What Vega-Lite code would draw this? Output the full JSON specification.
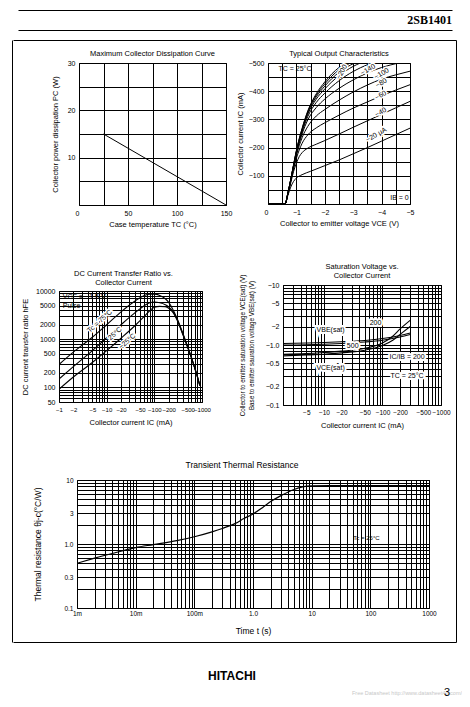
{
"$schema":"https://vega.github.io/schema/vega-lite/v6.json",
"padding":{"left":12,"top":10,"right":0,"bottom":0},
"spacing":0,
"config":{"font":"Liberation Sans","view":{"stroke":"#000","strokeWidth":1},
"point":{"opacity":0,"size":0,"strokeWidth":0},
"axis":{"domain":false,"ticks":false,"grid":true,"gridColor":"#000","gridOpacity":1,"gridWidth":1,"labelFont":"Liberation Sans","labelFontSize":7,"labelColor":"#000","labelPadding":4,"labelOverlap":false,"labelFlush":false,"titleFont":"Liberation Sans","titleFontSize":7.5,"titleFontWeight":"normal","titleColor":"#000","titlePadding":6},
"title":{"font":"Liberation Sans","fontSize":7.5,"fontWeight":"normal","color":"#000","anchor":"middle","offset":2,"lineHeight":9}},
"vconcat":[
{"hconcat":[
 {"width":6,"height":20,"data":{"values":[{}]},"mark":"point","view":{"stroke":null}},
 {"width":434,"height":20,"data":{"values":[{"t":"2SB1401"}]},"view":{"stroke":null},
  "mark":{"type":"text","font":"Liberation Serif","fontWeight":"bold","fontSize":12,"align":"right","baseline":"middle","color":"#000"},
  "encoding":{"x":{"datum":1,"type":"quantitative","scale":{"domain":[0,1]},"axis":null},
   "y":{"datum":0.5,"type":"quantitative","scale":{"domain":[0,1]},"axis":{"values":[0,1],"grid":true,"labels":false,"ticks":false,"domain":false,"title":null,"gridColor":"#000","gridWidth":1}},
   "text":{"field":"t"}}}
],"spacing":0,"bounds":"flush"},
{"width":440,"height":10,"data":{"values":[{}]},"mark":"point","view":{"stroke":null}},
{"hconcat":[
 {"width":1,"height":602,"data":{"values":[{}]},"mark":"point","view":{"stroke":null},
  "encoding":{"y":{"datum":0,"type":"quantitative","scale":{"domain":[0,1]},"axis":{"domain":true,"domainColor":"#000","domainWidth":1,"grid":false,"labels":false,"ticks":false,"title":null}}}},
 {"vconcat":[
  {"width":443,"height":9,"data":{"values":[{}]},"mark":"point","view":{"stroke":null},
   "encoding":{"x":{"datum":0,"type":"quantitative","scale":{"domain":[0,1]},"axis":{"orient":"top","domain":true,"domainColor":"#000","domainWidth":1,"grid":false,"labels":false,"ticks":false,"title":null}}}},
  {"hconcat":[
   {"width":66,"height":198,"data":{"values":[{}]},"mark":"point","view":{"stroke":null}},
   {"width":147,"height":142,"title":{"text":"Maximum Collector Dissipation Curve"},
    "data":{"values":[{"tc":25,"pc":15},{"tc":150,"pc":0}]},
    "mark":{"type":"line","color":"#000","strokeWidth":1},
    "encoding":{
     "x":{"field":"tc","type":"quantitative","scale":{"domain":[0,150],"nice":false},"axis":{"values":[0,25,50,75,100,125,150],"labelExpr":"datum.value % 50 == 0 ? '' + datum.value : ''","labelAlign":{"condition":{"test":"datum.value == 0","value":"right"},"value":"center"},"title":"Case temperature  TC  (°C)","titlePadding":4}},
     "y":{"field":"pc","type":"quantitative","scale":{"domain":[0,30],"nice":false},"axis":{"values":[0,5,10,15,20,25,30],"labelExpr":"datum.value > 0 && datum.value % 10 == 0 ? '' + datum.value : ''","title":"Collector power dissipation  PC  (W)","titlePadding":8}}}},
   {"width":42,"height":10,"data":{"values":[{}]},"mark":"point","view":{"stroke":null}},
   {"width":142,"height":141,"title":{"text":"Typical Output Characteristics"},
     "encoding":{
      "x":{"field":"v","type":"quantitative","scale":{"domain":[0,-5],"nice":false},"axis":{"values":[0,-0.5,-1,-1.5,-2,-2.5,-3,-3.5,-4,-4.5,-5],"labelExpr":"datum.value == 0 ? '0' : (datum.value % 1 == 0 ? '−' + abs(datum.value) : '')","labelAlign":{"condition":{"test":"datum.value == 0","value":"right"},"value":"center"},"title":"Collector to emitter voltage  VCE  (V)","titlePadding":4}},
      "y":{"field":"i","type":"quantitative","scale":{"domain":[0,-500],"nice":false},"axis":{"values":[0,-50,-100,-150,-200,-250,-300,-350,-400,-450,-500],"labelExpr":"datum.value != 0 && datum.value % 100 == 0 ? '−' + abs(datum.value) : ''","title":"Collector current  IC  (mA)","titlePadding":4}}},
     "layer":[
      {"data":{"values":[
{"b":"-20","v":0,"i":0},{"b":"-20","v":-0.6,"i":0},{"b":"-20","v":-0.7,"i":-30},{"b":"-20","v":-0.8,"i":-60},{"b":"-20","v":-0.9,"i":-80},{"b":"-20","v":-1,"i":-92},{"b":"-20","v":-1.2,"i":-104},{"b":"-20","v":-1.5,"i":-116},{"b":"-20","v":-2,"i":-136},{"b":"-20","v":-2.5,"i":-156},{"b":"-20","v":-3,"i":-178},{"b":"-20","v":-3.5,"i":-200},{"b":"-20","v":-4,"i":-223},{"b":"-20","v":-4.5,"i":-246},{"b":"-20","v":-5,"i":-269},
{"b":"-40","v":0,"i":0},{"b":"-40","v":-0.6,"i":0},{"b":"-40","v":-0.7,"i":-35},{"b":"-40","v":-0.8,"i":-75},{"b":"-40","v":-0.9,"i":-115},{"b":"-40","v":-1,"i":-145},{"b":"-40","v":-1.1,"i":-168},{"b":"-40","v":-1.2,"i":-182},{"b":"-40","v":-1.4,"i":-198},{"b":"-40","v":-1.7,"i":-212},{"b":"-40","v":-2,"i":-225},{"b":"-40","v":-2.5,"i":-248},{"b":"-40","v":-3,"i":-272},{"b":"-40","v":-3.5,"i":-295},{"b":"-40","v":-4,"i":-318},{"b":"-40","v":-4.5,"i":-341},{"b":"-40","v":-5,"i":-364},
{"b":"-60","v":0,"i":0},{"b":"-60","v":-0.6,"i":0},{"b":"-60","v":-0.7,"i":-36},{"b":"-60","v":-0.8,"i":-80},{"b":"-60","v":-0.9,"i":-125},{"b":"-60","v":-1,"i":-162},{"b":"-60","v":-1.2,"i":-215},{"b":"-60","v":-1.4,"i":-245},{"b":"-60","v":-1.7,"i":-270},{"b":"-60","v":-2,"i":-288},{"b":"-60","v":-2.5,"i":-315},{"b":"-60","v":-3,"i":-340},{"b":"-60","v":-3.5,"i":-362},{"b":"-60","v":-4,"i":-384},{"b":"-60","v":-4.5,"i":-404},{"b":"-60","v":-5,"i":-423},
{"b":"-80","v":0,"i":0},{"b":"-80","v":-0.6,"i":0},{"b":"-80","v":-0.7,"i":-37},{"b":"-80","v":-0.8,"i":-82},{"b":"-80","v":-0.9,"i":-130},{"b":"-80","v":-1,"i":-172},{"b":"-80","v":-1.2,"i":-235},{"b":"-80","v":-1.4,"i":-275},{"b":"-80","v":-1.7,"i":-312},{"b":"-80","v":-2,"i":-335},{"b":"-80","v":-2.5,"i":-368},{"b":"-80","v":-3,"i":-397},{"b":"-80","v":-3.5,"i":-422},{"b":"-80","v":-4,"i":-443},{"b":"-80","v":-4.5,"i":-458},{"b":"-80","v":-5,"i":-471},
{"b":"-100","v":0,"i":0},{"b":"-100","v":-0.6,"i":0},{"b":"-100","v":-0.7,"i":-38},{"b":"-100","v":-0.8,"i":-84},{"b":"-100","v":-0.9,"i":-133},{"b":"-100","v":-1,"i":-178},{"b":"-100","v":-1.2,"i":-248},{"b":"-100","v":-1.4,"i":-298},{"b":"-100","v":-1.7,"i":-342},{"b":"-100","v":-2,"i":-372},{"b":"-100","v":-2.5,"i":-410},{"b":"-100","v":-3,"i":-440},{"b":"-100","v":-3.5,"i":-465},{"b":"-100","v":-4,"i":-484},{"b":"-100","v":-4.6,"i":-500},
{"b":"-120","v":0,"i":0},{"b":"-120","v":-0.6,"i":0},{"b":"-120","v":-0.7,"i":-38},{"b":"-120","v":-0.8,"i":-85},{"b":"-120","v":-0.9,"i":-135},{"b":"-120","v":-1,"i":-182},{"b":"-120","v":-1.2,"i":-255},{"b":"-120","v":-1.4,"i":-310},{"b":"-120","v":-1.7,"i":-360},{"b":"-120","v":-2,"i":-393},{"b":"-120","v":-2.5,"i":-437},{"b":"-120","v":-3,"i":-470},{"b":"-120","v":-3.5,"i":-494},{"b":"-120","v":-3.65,"i":-500},
{"b":"-140","v":0,"i":0},{"b":"-140","v":-0.6,"i":0},{"b":"-140","v":-0.7,"i":-38},{"b":"-140","v":-0.8,"i":-85},{"b":"-140","v":-0.9,"i":-136},{"b":"-140","v":-1,"i":-184},{"b":"-140","v":-1.2,"i":-260},{"b":"-140","v":-1.4,"i":-318},{"b":"-140","v":-1.7,"i":-372},{"b":"-140","v":-2,"i":-408},{"b":"-140","v":-2.5,"i":-455},{"b":"-140","v":-3,"i":-488},{"b":"-140","v":-3.25,"i":-500},
{"b":"-160","v":0,"i":0},{"b":"-160","v":-0.6,"i":0},{"b":"-160","v":-0.7,"i":-38},{"b":"-160","v":-0.8,"i":-86},{"b":"-160","v":-0.9,"i":-137},{"b":"-160","v":-1,"i":-186},{"b":"-160","v":-1.2,"i":-263},{"b":"-160","v":-1.4,"i":-323},{"b":"-160","v":-1.7,"i":-380},{"b":"-160","v":-2,"i":-418},{"b":"-160","v":-2.5,"i":-467},{"b":"-160","v":-3.05,"i":-500},
{"b":"-180","v":0,"i":0},{"b":"-180","v":-0.6,"i":0},{"b":"-180","v":-0.7,"i":-38},{"b":"-180","v":-0.8,"i":-86},{"b":"-180","v":-0.9,"i":-138},{"b":"-180","v":-1,"i":-188},{"b":"-180","v":-1.2,"i":-266},{"b":"-180","v":-1.4,"i":-327},{"b":"-180","v":-1.7,"i":-386},{"b":"-180","v":-2,"i":-426},{"b":"-180","v":-2.5,"i":-476},{"b":"-180","v":-2.9,"i":-500},
{"b":"-200","v":0,"i":0},{"b":"-200","v":-0.6,"i":0},{"b":"-200","v":-0.7,"i":-38},{"b":"-200","v":-0.8,"i":-87},{"b":"-200","v":-0.9,"i":-139},{"b":"-200","v":-1,"i":-190},{"b":"-200","v":-1.2,"i":-268},{"b":"-200","v":-1.4,"i":-330},{"b":"-200","v":-1.7,"i":-391},{"b":"-200","v":-2,"i":-433},{"b":"-200","v":-2.5,"i":-484},{"b":"-200","v":-2.75,"i":-500}
      ]},"mark":{"type":"line","color":"#000","strokeWidth":1,"interpolate":"monotone","clip":true},"encoding":{"detail":{"field":"b"}}},
      {"data":{"values":[{}]},"mark":{"type":"rect","fill":"#fff"},"encoding":{"x":{"datum":-0.1},"x2":{"datum":-1.85},"y":{"datum":-456},"y2":{"datum":-497}}},
      {"data":{"values":[{}]},"mark":{"type":"rect","fill":"#fff"},"encoding":{"x":{"datum":-4.3},"x2":{"datum":-4.96},"y":{"datum":-4},"y2":{"datum":-43}}},
      {"data":{"values":[{"v":-0.95,"i":-477,"lab":"TC = 25°C"},{"v":-4.63,"i":-23,"lab":"IB = 0"}]},"mark":{"type":"text","fontSize":7,"color":"#000"},"encoding":{"text":{"field":"lab"}}},
      {"data":{"values":[{"v":-3.52,"i":-476,"lab":"−140"},{"v":-4.0,"i":-462,"lab":"−100"},{"v":-3.99,"i":-429,"lab":"−80"},{"v":-3.97,"i":-385,"lab":"−60"},{"v":-3.97,"i":-325,"lab":"−40"},{"v":-3.81,"i":-245,"lab":"−20 μA"}]},"mark":{"type":"text","fontSize":7,"angle":330,"fill":"#fff","stroke":"#fff","strokeWidth":3},"encoding":{"text":{"field":"lab"}}},
      {"data":{"values":[{"v":-3.52,"i":-476,"lab":"−140"},{"v":-4.0,"i":-462,"lab":"−100"},{"v":-3.99,"i":-429,"lab":"−80"},{"v":-3.97,"i":-385,"lab":"−60"},{"v":-3.97,"i":-325,"lab":"−40"},{"v":-3.81,"i":-245,"lab":"−20 μA"}]},"mark":{"type":"text","fontSize":7,"angle":330,"color":"#000"},"encoding":{"text":{"field":"lab"}}},
      {"data":{"values":[{"v":-2.6,"i":-468,"lab":"−200"}]},"mark":{"type":"text","fontSize":7,"angle":300,"fill":"#fff","stroke":"#fff","strokeWidth":3},"encoding":{"text":{"field":"lab"}}},
      {"data":{"values":[{"v":-2.6,"i":-468,"lab":"−200"}]},"mark":{"type":"text","fontSize":7,"angle":300,"color":"#000"},"encoding":{"text":{"field":"lab"}}}
     ]}
  ],"spacing":0,"bounds":"flush"},
  {"hconcat":[
   {"vconcat":[
    {"width":200,"height":8,"data":{"values":[{}]},"mark":"point","view":{"stroke":null}},
    {"hconcat":[
     {"width":46,"height":10,"data":{"values":[{}]},"mark":"point","view":{"stroke":null}},
     {"width":143,"height":111,"title":{"text":["DC Current Transfer Ratio vs.","Collector Current"],"dx":-7,"offset":1},
      "encoding":{
       "x":{"field":"ic","type":"quantitative","scale":{"type":"log","domain":[1,1000],"nice":false},"axis":{"values":[1,2,3,4,5,6,7,8,9,10,20,30,40,50,60,70,80,90,100,200,300,400,500,600,700,800,900,1000],"labelExpr":"indexof([1,2,5,10,20,50,100,200,500,1000], datum.value) >= 0 ? '−' + datum.value : ''","labelFontSize":6,"title":"Collector current  IC  (mA)"}},
       "y":{"field":"h","type":"quantitative","scale":{"type":"log","domain":[50,10000],"nice":false},"axis":{"values":[50,60,70,80,90,100,200,300,400,500,600,700,800,900,1000,2000,3000,4000,5000,6000,7000,8000,9000,10000],"labelExpr":"indexof([50,100,200,500,1000,2000,5000,10000], datum.value) >= 0 ? '' + datum.value : ''","title":"DC current transfer ratio  hFE"}}},
      "layer":[
       {"data":{"values":[
{"t":"75","ic":1,"h":300},{"t":"75","ic":2,"h":540},{"t":"75","ic":5,"h":1100},{"t":"75","ic":10,"h":2000},{"t":"75","ic":20,"h":3700},{"t":"75","ic":40,"h":6300},{"t":"75","ic":60,"h":8000},{"t":"75","ic":80,"h":8600},{"t":"75","ic":100,"h":8600},{"t":"75","ic":130,"h":8100},{"t":"75","ic":170,"h":6900},{"t":"75","ic":200,"h":5800},{"t":"75","ic":250,"h":4000},{"t":"75","ic":300,"h":2700},{"t":"75","ic":400,"h":1300},{"t":"75","ic":500,"h":700},{"t":"75","ic":600,"h":420},{"t":"75","ic":700,"h":260},{"t":"75","ic":800,"h":170},{"t":"75","ic":900,"h":112},
{"t":"25","ic":1,"h":150},{"t":"25","ic":2,"h":270},{"t":"25","ic":5,"h":580},{"t":"25","ic":10,"h":1080},{"t":"25","ic":20,"h":2000},{"t":"25","ic":40,"h":3600},{"t":"25","ic":60,"h":4900},{"t":"25","ic":80,"h":5700},{"t":"25","ic":100,"h":5900},{"t":"25","ic":130,"h":5700},{"t":"25","ic":170,"h":5200},{"t":"25","ic":200,"h":4700},{"t":"25","ic":250,"h":3700},{"t":"25","ic":300,"h":2600},{"t":"25","ic":400,"h":1250},{"t":"25","ic":500,"h":690},{"t":"25","ic":600,"h":415},{"t":"25","ic":700,"h":258},{"t":"25","ic":800,"h":168},{"t":"25","ic":900,"h":110},
{"t":"-25","ic":1,"h":92},{"t":"-25","ic":2,"h":165},{"t":"-25","ic":5,"h":330},{"t":"-25","ic":10,"h":580},{"t":"-25","ic":20,"h":1050},{"t":"-25","ic":40,"h":1950},{"t":"-25","ic":60,"h":2900},{"t":"-25","ic":80,"h":3900},{"t":"-25","ic":100,"h":4600},{"t":"-25","ic":130,"h":4800},{"t":"-25","ic":170,"h":4700},{"t":"-25","ic":200,"h":4400},{"t":"-25","ic":250,"h":3500},{"t":"-25","ic":300,"h":2500},{"t":"-25","ic":400,"h":1220},{"t":"-25","ic":500,"h":680},{"t":"-25","ic":600,"h":410},{"t":"-25","ic":700,"h":255},{"t":"-25","ic":800,"h":166},{"t":"-25","ic":900,"h":108}
       ]},"mark":{"type":"line","color":"#000","strokeWidth":1.1,"interpolate":"monotone","clip":true},"encoding":{"detail":{"field":"t"}}},
       {"data":{"values":[{}]},"mark":{"type":"rect","fill":"#fff"},"encoding":{"x":{"datum":1.05},"x2":{"datum":12.5},"y":{"datum":3900},"y2":{"datum":9700}}},
       {"data":{"values":[{"ic":1.2,"h":7600,"lab":"VCE = −1.5 V"},{"ic":1.2,"h":5000,"lab":"Pulse"}]},"mark":{"type":"text","fontSize":7,"align":"left","color":"#000"},"encoding":{"text":{"field":"lab"}}},
       {"data":{"values":[{"ic":7.2,"h":2350,"lab":"Tc = 75°C"},{"ic":15,"h":1300,"lab":"25°C"},{"ic":27,"h":900,"lab":"−25°C"}]},"mark":{"type":"text","fontSize":7,"angle":318,"fill":"#fff","stroke":"#fff","strokeWidth":3},"encoding":{"text":{"field":"lab"}}},
       {"data":{"values":[{"ic":7.2,"h":2350,"lab":"Tc = 75°C"},{"ic":15,"h":1300,"lab":"25°C"},{"ic":27,"h":900,"lab":"−25°C"}]},"mark":{"type":"text","fontSize":7,"angle":318,"color":"#000"},"encoding":{"text":{"field":"lab"}}}
      ]}
    ],"spacing":0,"bounds":"flush"}
   ],"spacing":0},
   {"vconcat":[
    {"width":228,"height":1,"data":{"values":[{}]},"mark":"point","view":{"stroke":null}},
    {"hconcat":[
     {"width":70,"height":10,"data":{"values":[{}]},"mark":"point","view":{"stroke":null}},
     {"width":158,"height":120,"title":{"text":["Saturation Voltage vs.","Collector Current"],"offset":-7},
      "encoding":{
       "x":{"field":"ic","type":"quantitative","scale":{"type":"log","domain":[2,1000],"nice":false},"axis":{"values":[2,3,4,5,6,7,8,9,10,20,30,40,50,60,70,80,90,100,200,300,400,500,600,700,800,900,1000],"labelExpr":"indexof([5,10,20,50,100,200,500,1000], datum.value) >= 0 ? '−' + datum.value : ''","labelFontSize":6.5,"title":"Collector current  IC  (mA)"}},
       "y":{"field":"vs","type":"quantitative","scale":{"type":"log","domain":[0.1,10],"nice":false},"axis":{"values":[0.1,0.2,0.3,0.4,0.5,0.6,0.7,0.8,0.9,1,2,3,4,5,6,7,8,9,10],"labelExpr":"datum.value == 1 ? '−1.0' : (indexof([0.1,0.2,0.5,2,5,10], datum.value) >= 0 ? '−' + datum.value : '')","title":["Collector to emitter saturation voltage  VCE(sat)  (V)","Base to emitter sauration voltage  VBE(sat)  (V)"],"titleFontSize":6.3,"titleLineHeight":9,"titlePadding":11}}},
      "layer":[
       {"data":{"values":[
{"s":"VBE200","ic":2,"vs":1.06},{"s":"VBE200","ic":5,"vs":1.08},{"s":"VBE200","ic":10,"vs":1.1},{"s":"VBE200","ic":20,"vs":1.13},{"s":"VBE200","ic":50,"vs":1.19},{"s":"VBE200","ic":100,"vs":1.28},{"s":"VBE200","ic":200,"vs":1.44},{"s":"VBE200","ic":300,"vs":1.58},
{"s":"VBE500","ic":2,"vs":1.0},{"s":"VBE500","ic":5,"vs":1.01},{"s":"VBE500","ic":10,"vs":1.03},{"s":"VBE500","ic":20,"vs":1.06},{"s":"VBE500","ic":50,"vs":1.12},{"s":"VBE500","ic":100,"vs":1.2},{"s":"VBE500","ic":200,"vs":1.36},{"s":"VBE500","ic":300,"vs":1.5},
{"s":"VCE200","ic":2,"vs":0.66},{"s":"VCE200","ic":5,"vs":0.68},{"s":"VCE200","ic":10,"vs":0.7},{"s":"VCE200","ic":20,"vs":0.74},{"s":"VCE200","ic":50,"vs":0.82},{"s":"VCE200","ic":100,"vs":0.98},{"s":"VCE200","ic":150,"vs":1.2},{"s":"VCE200","ic":200,"vs":1.5},{"s":"VCE200","ic":300,"vs":2.05},
{"s":"VCE500","ic":2,"vs":0.7},{"s":"VCE500","ic":5,"vs":0.72},{"s":"VCE500","ic":10,"vs":0.75},{"s":"VCE500","ic":20,"vs":0.79},{"s":"VCE500","ic":50,"vs":0.88},{"s":"VCE500","ic":100,"vs":1.08},{"s":"VCE500","ic":150,"vs":1.4},{"s":"VCE500","ic":200,"vs":1.85},{"s":"VCE500","ic":300,"vs":2.6}
       ]},"mark":{"type":"line","color":"#000","strokeWidth":1.1,"interpolate":"monotone","clip":true},"encoding":{"detail":{"field":"s"}}},
       {"data":{"values":[{"ic":13,"vs":1.8,"lab":"VBE(sat)"},{"ic":13,"vs":0.42,"lab":"VCE(sat)"},{"ic":31,"vs":0.97,"lab":"500"},{"ic":76,"vs":2.3,"lab":"200"},{"ic":263,"vs":0.62,"lab":"IC/IB = 200"},{"ic":263,"vs":0.31,"lab":"TC = 25°C"}]},"mark":{"type":"text","fontSize":7,"fill":"#fff","stroke":"#fff","strokeWidth":4},"encoding":{"text":{"field":"lab"}}},
       {"data":{"values":[{"ic":13,"vs":1.8,"lab":"VBE(sat)"},{"ic":13,"vs":0.42,"lab":"VCE(sat)"},{"ic":31,"vs":0.97,"lab":"500"},{"ic":76,"vs":2.3,"lab":"200"},{"ic":263,"vs":0.62,"lab":"IC/IB = 200"},{"ic":263,"vs":0.31,"lab":"TC = 25°C"}]},"mark":{"type":"text","fontSize":7,"color":"#000"},"encoding":{"text":{"field":"lab"}}}
      ]}
    ],"spacing":0,"bounds":"flush"}
   ],"spacing":0},
   {"width":1,"height":199,"data":{"values":[{}]},"mark":"point","view":{"stroke":null}}
  ],"spacing":0},
  {"hconcat":[
   {"width":64,"height":158,"data":{"values":[{}]},"mark":"point","view":{"stroke":null}},
   {"width":352,"height":128,"title":{"text":"Transient Thermal Resistance","fontSize":8.5,"dx":-11,"offset":8},
    "encoding":{
     "x":{"field":"t","type":"quantitative","scale":{"type":"log","domain":[0.001,1000],"nice":false},"axis":{"values":[0.001,0.002,0.003,0.004,0.005,0.006,0.007,0.008,0.009,0.01,0.02,0.03,0.04,0.05,0.06,0.07,0.08,0.09,0.1,0.2,0.3,0.4,0.5,0.6,0.7,0.8,0.9,1,2,3,4,5,6,7,8,9,10,20,30,40,50,60,70,80,90,100,200,300,400,500,600,700,800,900,1000],"labelExpr":"datum.value == 0.001 ? '1m' : datum.value == 0.01 ? '10m' : datum.value == 0.1 ? '100m' : datum.value == 1 ? '1.0' : (indexof([10,100,1000], datum.value) >= 0 ? '' + datum.value : '')","labelFontSize":6.5,"labelPadding":2,"title":"Time t (s)","titleFontSize":8.5,"titlePadding":10}},
     "y":{"field":"r","type":"quantitative","scale":{"type":"log","domain":[0.1,10],"nice":false},"axis":{"values":[0.1,0.2,0.3,0.4,0.5,0.6,0.7,0.8,0.9,1,2,3,4,5,6,7,8,9,10],"labelExpr":"datum.value == 1 ? '1.0' : (indexof([0.1,0.3,3,10], datum.value) >= 0 ? '' + datum.value : '')","labelFontSize":6.5,"title":"Thermal resistance  θj-c(°C/W)","titleFontSize":8.5,"titlePadding":21}}},
    "layer":[
     {"data":{"values":[{"t":0.001,"r":0.5},{"t":0.002,"r":0.6},{"t":0.005,"r":0.75},{"t":0.01,"r":0.88},{"t":0.02,"r":0.98},{"t":0.05,"r":1.13},{"t":0.1,"r":1.3},{"t":0.2,"r":1.55},{"t":0.3,"r":1.75},{"t":0.5,"r":2.1},{"t":0.7,"r":2.5},{"t":1,"r":2.95},{"t":1.5,"r":3.8},{"t":2,"r":4.6},{"t":3,"r":5.7},{"t":5,"r":7.1},{"t":7,"r":7.8},{"t":10,"r":8.1},{"t":20,"r":8.15},{"t":100,"r":8.15},{"t":1000,"r":8.15}]},
      "mark":{"type":"line","color":"#000","strokeWidth":1.2,"interpolate":"monotone","clip":true}},
     {"data":{"values":[{}]},"mark":{"type":"rect","fill":"#fff"},"encoding":{"x":{"datum":48},"x2":{"datum":155},"y":{"datum":1.1},"y2":{"datum":1.45}}},
     {"data":{"values":[{"t":86,"r":1.26,"lab":"Tc = 25°C"}]},"mark":{"type":"text","fontSize":6,"color":"#000"},"encoding":{"text":{"field":"lab"}}}
    ]}
  ],"spacing":0,"bounds":"flush"},
  {"width":443,"height":4,"data":{"values":[{}]},"mark":"point","view":{"stroke":null},
   "encoding":{"x":{"datum":0,"type":"quantitative","scale":{"domain":[0,1]},"axis":{"orient":"bottom","domain":true,"domainColor":"#000","domainWidth":1,"grid":false,"labels":false,"ticks":false,"title":null}}}}
 ],"spacing":0},
 {"width":1,"height":602,"data":{"values":[{}]},"mark":"point","view":{"stroke":null},
  "encoding":{"y":{"datum":0,"type":"quantitative","scale":{"domain":[0,1]},"axis":{"domain":true,"domainColor":"#000","domainWidth":1,"grid":false,"labels":false,"ticks":false,"title":null}}}}
],"spacing":0},
{"width":440,"height":60,"view":{"stroke":null},
 "layer":[
  {"data":{"values":[{"t":"HITACHI"}]},"mark":{"type":"text","font":"Liberation Sans","fontWeight":"bold","fontSize":12,"color":"#000","dy":4},"encoding":{"text":{"field":"t"}}},
  {"data":{"values":[{"t":"Free Datasheet http://www.datasheet4u.com/"}]},"mark":{"type":"text","fontSize":5.5,"color":"#c8c8c8","align":"right","baseline":"bottom","dx":10,"dy":-6},
   "encoding":{"x":{"datum":1,"type":"quantitative","scale":{"domain":[0,1]},"axis":null},"y":{"datum":0,"type":"quantitative","scale":{"domain":[0,1]},"axis":null},"text":{"field":"t"}}},
  {"data":{"values":[{"t":"3"}]},"mark":{"type":"text","fontSize":11,"color":"#000","align":"right","baseline":"bottom","dx":-2,"dy":-4},
   "encoding":{"x":{"datum":1,"type":"quantitative","scale":{"domain":[0,1]},"axis":null},"y":{"datum":0,"type":"quantitative","scale":{"domain":[0,1]},"axis":null},"text":{"field":"t"}}}
 ]}
]
}
